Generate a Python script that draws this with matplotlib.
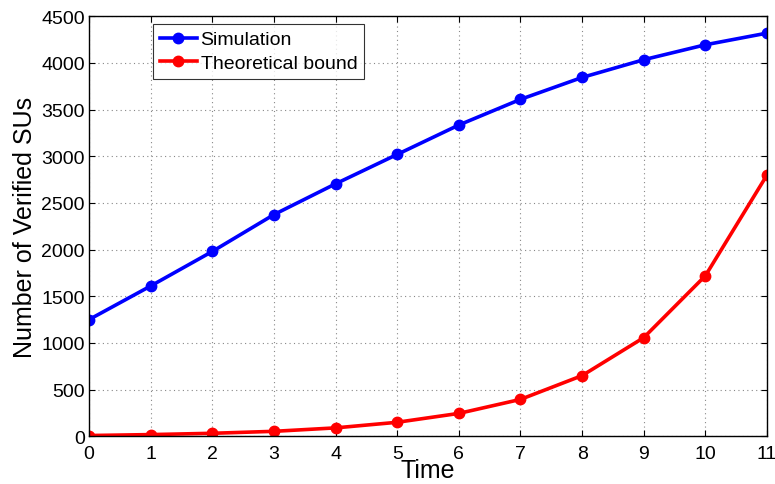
import matplotlib
matplotlib.use("Agg")
import matplotlib.pyplot as plt

plt.rcParams['font.family'] = ['Liberation Sans', 'DejaVu Sans']

time = list(range(12))
simulation = [1250, 1610, 1980, 2375, 2705, 3020, 3335, 3610, 3845, 4035, 4195, 4320]
theoretical = [8, 18, 32, 53, 90, 150, 245, 395, 650, 1057, 1720, 2800]
xticks = list(range(12))
yticks = list(range(0, 4501, 500))

fig = plt.figure(figsize=(7.75, 4.85), dpi=100)
ax = fig.add_axes([0.1148, 0.0984, 0.8749, 0.8659])

ax.plot(time, simulation, color='#0000ff', lw=2.6, marker='o', ms=7.5, label='Simulation')
ax.plot(time, theoretical, color='#ff0000', lw=2.6, marker='o', ms=7.5, label='Theoretical bound')

ax.set_xlim(0, 11)
ax.set_ylim(0, 4500)
ax.set_xticks(xticks)
ax.set_yticks(yticks)
ax.tick_params(direction='in', top=True, right=True, labelsize=14, length=4, width=0.8)
ax.tick_params(axis='x', pad=6)
ax.tick_params(axis='y', pad=3)
ax.grid(True, linestyle=(0, (1, 3)), color='#888888', linewidth=0.8)
for s in ax.spines.values():
    s.set_linewidth(1.0)

ax.set_xlabel('Time', fontsize=18, labelpad=-2.5)
ax.set_ylabel('Number of Verified SUs', fontsize=18, labelpad=3)

leg = ax.legend(loc='upper left', bbox_to_anchor=(0.0944, 0.9817), borderaxespad=0,
                fontsize=14, frameon=True, fancybox=False, edgecolor='black',
                handlelength=1.9, borderpad=0.35, labelspacing=0.3, handletextpad=0.2)
leg.get_frame().set_linewidth(0.8)

fig.savefig('out.png', dpi=100)
